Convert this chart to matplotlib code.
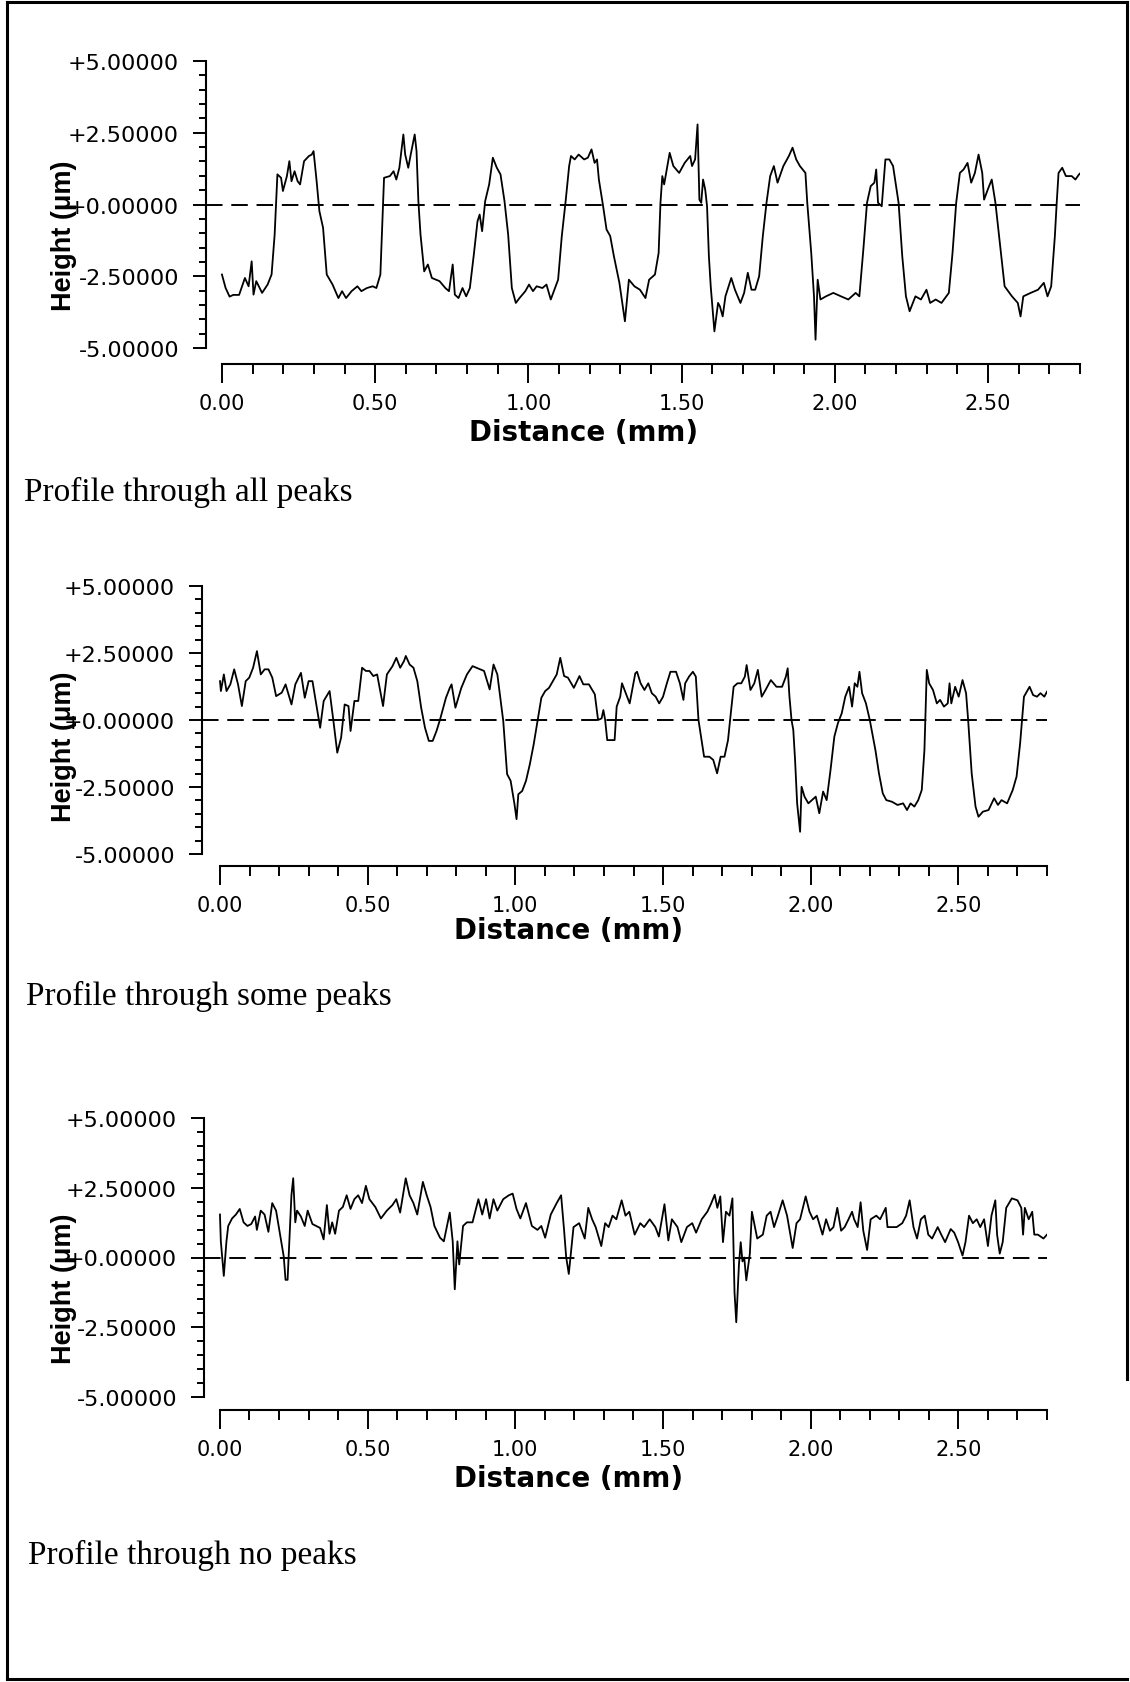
import numpy as np
import matplotlib
matplotlib.use("Agg")
import matplotlib.pyplot as plt
from matplotlib.lines import Line2D
from matplotlib.ticker import FixedLocator, FixedFormatter

W, H, DPI = 1130, 1683, 100

# --- dados (distância em mm, altura em µm) ---
dist_todos = [
    0.000, 0.012, 0.025, 0.037, 0.056, 0.075, 0.087, 0.097, 0.103, 0.112,
    0.131, 0.149, 0.162, 0.172, 0.181, 0.193, 0.199, 0.212, 0.220, 0.227,
    0.237, 0.247, 0.255, 0.268, 0.284, 0.293, 0.299, 0.309, 0.318, 0.330,
    0.342, 0.361, 0.380, 0.392, 0.405, 0.423, 0.442, 0.455, 0.473, 0.492,
    0.504, 0.517, 0.529, 0.548, 0.560, 0.569, 0.579, 0.592, 0.598, 0.608,
    0.616, 0.629, 0.635, 0.641, 0.648, 0.660, 0.672, 0.685, 0.710, 0.729,
    0.741, 0.753, 0.760, 0.772, 0.785, 0.797, 0.809, 0.822, 0.834, 0.841,
    0.849, 0.859, 0.872, 0.884, 0.897, 0.909, 0.922, 0.934, 0.946, 0.959,
    0.971, 0.990, 1.002, 1.015, 1.027, 1.046, 1.059,
    1.073, 1.097, 1.109, 1.121, 1.133, 1.139, 1.151, 1.164, 1.182, 1.194,
    1.206, 1.216, 1.224, 1.230, 1.243, 1.255, 1.267, 1.279, 1.297, 1.315,
    1.328, 1.346, 1.364, 1.382, 1.394, 1.413, 1.425, 1.431, 1.437, 1.443,
    1.461, 1.473, 1.492, 1.510, 1.528, 1.534, 1.544, 1.552, 1.558, 1.564,
    1.570, 1.577, 1.583, 1.589, 1.595, 1.607, 1.619, 1.625, 1.634, 1.643,
    1.662, 1.674, 1.692, 1.704, 1.716, 1.728, 1.740, 1.753, 1.765, 1.777,
    1.789, 1.801, 1.813, 1.832, 1.850, 1.862, 1.874, 1.886, 1.904, 1.910,
    1.923, 1.932, 1.937, 1.944, 1.953, 1.971, 1.995, 2.020, 2.044, 2.068,
    2.080, 2.093, 2.105, 2.117, 2.129, 2.135, 2.141, 2.153, 2.165, 2.178,
    2.190, 2.208, 2.220, 2.232, 2.244, 2.263, 2.281, 2.299, 2.311, 2.329,
    2.348, 2.372, 2.384, 2.396, 2.408, 2.420, 2.433, 2.445, 2.457, 2.469,
    2.481, 2.487, 2.499, 2.512, 2.524, 2.542, 2.554, 2.578, 2.597, 2.606,
    2.615, 2.639, 2.663, 2.682, 2.694, 2.706, 2.718, 2.724, 2.730, 2.742,
    2.754, 2.773, 2.785, 2.797, 2.800,
]
altura_todos = [
    -2.44, -2.91, -3.21, -3.15, -3.15, -2.56, -2.85, -1.98, -3.14, -2.67,
    -3.08, -2.79, -2.44, -1.05, 1.05, 0.93, 0.47, 0.99, 1.51, 0.81,
    1.16, 0.81, 0.70, 1.51, 1.69, 1.74, 1.86, 0.81, -0.23, -0.81,
    -2.44, -2.79, -3.26, -3.02, -3.26, -3.02, -2.85, -3.02, -2.91, -2.85,
    -2.91, -2.44, 0.93, 0.99, 1.16, 0.87, 1.28, 2.44, 1.74, 1.28,
    1.74, 2.44, 1.86, 0.12, -1.05, -2.33, -2.09, -2.56, -2.67, -2.91,
    -3.02, -2.09, -3.14, -3.26, -2.91, -3.20, -2.91, -1.74, -0.58, -0.35,
    -0.93, 0.12, 0.70, 1.63, 1.28, 1.05, 0.12, -1.05, -2.91, -3.43,
    -3.26, -3.02, -2.79, -3.02, -2.85, -2.91, -2.79,
    -3.31, -2.62, -1.10, 0.06, 1.34, 1.69, 1.57, 1.74, 1.57, 1.63,
    1.92, 1.45, 1.57, 0.87, 0.00, -0.87, -1.10, -1.80, -2.73, -4.07,
    -2.62, -2.85, -2.97, -3.26, -2.62, -2.44, -1.69, 0.06, 0.99, 0.70,
    1.80, 1.34, 1.10, 1.45, 1.69, 1.34, 1.57, 2.79, 0.17, 0.06,
    0.87, 0.52, -0.06, -1.80, -2.85, -4.42, -3.43, -3.55, -3.90, -3.20,
    -2.56, -2.97, -3.43, -3.08, -2.38, -2.97, -2.97, -2.50, -1.10, 0.06,
    0.99, 1.34, 0.76, 1.34, 1.69, 1.98, 1.57, 1.34, 1.10, 0.06,
    -1.69, -3.20, -4.71, -2.62, -3.31, -3.20, -3.08, -3.20, -3.31, -3.08,
    -3.20, -1.57, 0.06, 0.64, 0.76, 1.22, 0.06, -0.06, 1.57, 1.57,
    1.34, 0.06, -1.80, -3.20, -3.72, -3.20, -3.31, -2.97, -3.43, -3.31,
    -3.43, -3.08, -1.69, 0.06, 1.10, 1.22, 1.45, 0.76, 1.10, 1.74,
    1.10, 0.17, 0.52, 0.87, 0.06, -1.69, -2.85, -3.20, -3.43, -3.90,
    -3.20, -3.08, -2.97, -2.73, -3.20, -2.85, -1.10, 0.06, 1.10, 1.28,
    0.99, 0.99, 0.87, 1.05, 1.08,
]

dist_alguns = [
    0.000, 0.003, 0.013, 0.022, 0.035, 0.048, 0.061, 0.074, 0.087, 0.099,
    0.112, 0.125, 0.138, 0.151, 0.164, 0.177, 0.190, 0.209, 0.222, 0.242,
    0.255, 0.274, 0.287, 0.300, 0.313, 0.326, 0.339, 0.351, 0.371, 0.384,
    0.397, 0.410, 0.422, 0.435, 0.442, 0.455, 0.468, 0.481, 0.494, 0.506,
    0.519, 0.532, 0.552, 0.565, 0.584, 0.597, 0.610, 0.623, 0.629, 0.642,
    0.655, 0.668, 0.681, 0.694, 0.707, 0.720, 0.733, 0.745, 0.765, 0.778,
    0.784, 0.797, 0.817, 0.836, 0.855, 0.881, 0.894, 0.913, 0.926, 0.939,
    0.959, 0.972, 0.984, 0.997, 1.004, 1.010, 1.023, 1.036, 1.049, 1.062,
    1.075, 1.088, 1.101, 1.114, 1.127, 1.140, 1.152, 1.165, 1.178, 1.198,
    1.217, 1.230, 1.249, 1.269,
    1.280, 1.292, 1.298, 1.304, 1.311, 1.323, 1.336, 1.343, 1.355, 1.361,
    1.374, 1.387, 1.406, 1.412, 1.424, 1.437, 1.450, 1.462, 1.475, 1.487,
    1.500, 1.513, 1.525, 1.544, 1.557, 1.569, 1.575, 1.588, 1.601, 1.611,
    1.620, 1.632, 1.639, 1.657, 1.670, 1.683, 1.695, 1.708, 1.720, 1.727,
    1.739, 1.752, 1.765, 1.777, 1.783, 1.796, 1.809, 1.821, 1.834, 1.847,
    1.865, 1.884, 1.903, 1.916, 1.922, 1.928, 1.935, 1.941, 1.947, 1.954,
    1.960, 1.964, 1.969, 1.979, 1.992, 2.004, 2.017, 2.029, 2.042, 2.054,
    2.067, 2.080, 2.092, 2.105, 2.117, 2.130, 2.140, 2.149, 2.158, 2.165,
    2.174, 2.187, 2.200, 2.219, 2.231, 2.244, 2.256, 2.275, 2.294, 2.313,
    2.326, 2.338, 2.351, 2.364, 2.376, 2.385, 2.393, 2.401, 2.414, 2.427,
    2.438, 2.451, 2.464, 2.470, 2.476, 2.489, 2.501, 2.514, 2.526, 2.533,
    2.545, 2.558, 2.568, 2.583, 2.602, 2.621, 2.634, 2.646, 2.665, 2.684,
    2.697, 2.709, 2.722, 2.741, 2.753, 2.766, 2.778, 2.791, 2.800,
]
altura_alguns = [
    1.45, 1.08, 1.70, 1.08, 1.33, 1.89, 1.33, 0.52, 1.45, 1.58,
    1.95, 2.57, 1.70, 1.89, 1.89, 1.58, 0.89, 1.02, 1.33, 0.58,
    1.33, 1.76, 0.83, 1.45, 1.45, 0.58, -0.29, 0.71, 1.08, -0.04,
    -1.22, -0.66, 0.58, 0.52, -0.41, 0.71, 0.71, 1.95, 1.83, 1.83,
    1.64, 1.70, 0.52, 1.70, 2.01, 2.32, 1.95, 2.20, 2.39, 2.07,
    1.95, 1.45, 0.46, -0.29, -0.78, -0.78, -0.41, 0.02, 0.83, 1.20,
    1.33, 0.46, 1.20, 1.70, 2.01, 1.89, 1.83, 1.14, 2.07, 1.70,
    -0.04, -2.02, -2.27, -3.14, -3.70, -2.77, -2.65, -2.27, -1.65, -0.91,
    -0.04, 0.83, 1.08, 1.20, 1.45, 1.70, 2.32, 1.64, 1.58, 1.20,
    1.64, 1.33, 1.33, 0.96,
    0.00, 0.06, 0.37, 0.00, -0.75, -0.75, -0.75, 0.50, 0.87, 1.37,
    1.00, 0.62, 1.74, 1.80, 1.37, 1.12, 1.37, 1.00, 0.87, 0.62,
    0.87, 1.37, 1.80, 1.80, 1.37, 0.75, 1.37, 1.62, 1.80, 1.62,
    0.00, -0.87, -1.37, -1.37, -1.49, -1.99, -1.37, -1.37, -0.75, 0.00,
    1.24, 1.37, 1.37, 1.62, 2.05, 1.12, 1.37, 1.87, 0.87, 1.12,
    1.49, 1.24, 1.24, 1.62, 1.93, 0.87, 0.00, -0.37, -1.49, -3.11,
    -3.73, -4.17, -2.49, -2.86, -3.11, -2.99, -2.86, -3.48, -2.67, -2.99,
    -1.87, -0.62, -0.12, 0.25, 0.87, 1.24, 0.50, 1.37, 1.24, 1.80,
    1.00, 0.62, 0.00, -1.12, -1.99, -2.74, -2.99, -3.05, -3.17, -3.11,
    -3.36, -3.11, -3.23, -2.99, -2.61, -1.12, 1.87, 1.37, 1.12, 0.62,
    0.75, 0.50, 0.62, 1.37, 0.62, 1.24, 0.87, 1.49, 1.00, 0.00,
    -1.99, -3.23, -3.61, -3.42, -3.36, -2.92, -3.17, -2.99, -3.11, -2.61,
    -2.11, -0.87, 0.87, 1.24, 0.93, 0.87, 1.00, 0.87, 1.06,
]

dist_nenhum = [
    0.000, 0.003, 0.013, 0.022, 0.028, 0.041, 0.054, 0.067, 0.080, 0.093,
    0.106, 0.119, 0.125, 0.138, 0.151, 0.164, 0.177, 0.190, 0.203, 0.216,
    0.222, 0.229, 0.235, 0.242, 0.248, 0.255, 0.261, 0.274, 0.287, 0.297,
    0.313, 0.339, 0.351, 0.362, 0.371, 0.380, 0.390, 0.403, 0.416, 0.429,
    0.442, 0.455, 0.468, 0.481, 0.494, 0.506, 0.526, 0.545, 0.565, 0.584,
    0.597, 0.610, 0.629, 0.642, 0.655, 0.668, 0.687, 0.700, 0.713, 0.726,
    0.745, 0.758, 0.778, 0.788, 0.795, 0.804, 0.810, 0.823, 0.836, 0.855,
    0.875, 0.888, 0.901, 0.913, 0.926, 0.939, 0.959, 0.978, 0.991, 1.004,
    1.017, 1.036, 1.056, 1.075, 1.088, 1.101, 1.120, 1.140, 1.155, 1.165,
    1.172, 1.181,
    1.197, 1.216, 1.235, 1.247, 1.260, 1.272, 1.291, 1.304, 1.316, 1.329,
    1.342, 1.360, 1.373, 1.386, 1.404, 1.423, 1.436, 1.455, 1.474, 1.486,
    1.505, 1.518, 1.530, 1.549, 1.562, 1.581, 1.599, 1.612, 1.631, 1.650,
    1.662, 1.675, 1.684, 1.694, 1.703, 1.713, 1.725, 1.735, 1.742, 1.748,
    1.757, 1.763, 1.769, 1.775, 1.782, 1.794, 1.801, 1.819, 1.838, 1.851,
    1.864, 1.876, 1.889, 1.905, 1.920, 1.939, 1.952, 1.964, 1.983, 1.996,
    2.008, 2.021, 2.040, 2.052, 2.065, 2.077, 2.090, 2.103, 2.115, 2.128,
    2.140, 2.147, 2.159, 2.169, 2.178, 2.191, 2.203, 2.222, 2.235, 2.254,
    2.260, 2.272, 2.291, 2.310, 2.323, 2.335, 2.348, 2.360, 2.373, 2.386,
    2.398, 2.411, 2.430, 2.442, 2.455, 2.474, 2.486, 2.499, 2.514, 2.524,
    2.536, 2.549, 2.562, 2.574, 2.587, 2.600, 2.612, 2.625, 2.631, 2.640,
    2.650, 2.662, 2.681, 2.700, 2.713, 2.719, 2.725, 2.738, 2.750, 2.757,
    2.769, 2.788, 2.800,
]
altura_nenhum = [
    1.54, 0.58, -0.66, 0.58, 1.13, 1.40, 1.54, 1.74, 1.26, 1.13,
    1.20, 1.47, 0.99, 1.68, 1.54, 0.92, 1.95, 1.68, 0.85, 0.03,
    -0.80, -0.80, 0.58, 2.23, 2.84, 1.26, 1.68, 1.47, 1.13, 1.68,
    1.20, 1.06, 0.65, 1.88, 0.85, 1.26, 0.85, 1.68, 1.81, 2.23,
    1.74, 2.09, 2.23, 1.95, 2.57, 2.09, 1.81, 1.40, 1.68, 1.88,
    2.09, 1.61, 2.84, 2.23, 1.95, 1.54, 2.71, 2.23, 1.81, 1.13,
    0.71, 0.58, 1.61, 0.58, -1.14, 0.58, -0.25, 1.13, 1.26, 1.26,
    2.09, 1.54, 2.09, 1.40, 2.09, 1.68, 2.09, 2.23, 2.29, 1.74,
    1.40, 1.95, 1.13, 0.99, 1.13, 0.71, 1.54, 1.95, 2.23, 0.99,
    0.03, -0.59,
    1.09, 1.23, 0.68, 1.78, 1.37, 1.09, 0.41, 1.23, 1.09, 1.50,
    1.37, 2.05, 1.50, 1.64, 0.82, 1.23, 1.09, 1.37, 1.09, 0.75,
    1.91, 0.61, 1.37, 1.09, 0.55, 1.09, 1.23, 0.89, 1.37, 1.64,
    1.91, 2.25, 1.78, 2.19, 0.55, 1.64, 1.50, 2.12, -1.23, -2.32,
    -0.27, 0.55, -0.14, 0.00, -0.82, 0.14, 1.64, 0.68, 0.82, 1.50,
    1.64, 1.09, 1.50, 2.05, 1.50, 0.34, 1.23, 1.37, 2.19, 1.64,
    1.37, 1.50, 0.82, 1.37, 0.96, 1.09, 1.78, 0.96, 1.09, 1.37,
    1.64, 1.37, 1.09, 1.98, 0.96, 0.27, 1.37, 1.50, 1.37, 1.78,
    1.09, 1.09, 1.09, 1.23, 1.50, 2.05, 1.09, 0.68, 1.37, 1.50,
    0.82, 0.68, 1.09, 0.82, 0.55, 1.02, 0.89, 0.55, 0.07, 0.55,
    1.50, 1.23, 1.37, 1.09, 1.37, 0.41, 1.50, 2.05, 0.82, 0.14,
    0.55, 1.78, 2.12, 2.05, 1.78, 0.82, 1.78, 1.37, 1.64, 0.82,
    0.82, 0.68, 0.82,
]

XTICKS = [0.0, 0.5, 1.0, 1.5, 2.0, 2.5]
XTICK_LABELS = ["0.00", "0.50", "1.00", "1.50", "2.00", "2.50"]
YTICKS = [-5.0, -2.5, 0.0, 2.5, 5.0]
YTICK_LABELS = ["-5.00000", "-2.50000", "+0.00000", "+2.50000", "+5.00000"]
LEGENDAS = ["Profile through all peaks", "Profile through some peaks",
            "Profile through no peaks"]

# caixa do eixo em pixels: esquerda, topo, direita, base
PAINEIS = [
    dict(caixa=(206, 62, 1080, 349), xmin=-0.052, gap=16, xlab_y=433, ylab_y=236,
         leg=(24, 501)),
    dict(caixa=(202, 587, 1047, 855), xmin=-0.061, gap=12, xlab_y=931, ylab_y=747,
         leg=(26, 1005)),
    dict(caixa=(204, 1119, 1047, 1398), xmin=-0.054, gap=13, xlab_y=1479, ylab_y=1289,
         leg=(28, 1564)),
]
XMAX = 2.8


def pt(px):
    return px * 72.0 / DPI


def desenha_painel(fig, dist, altura, cfg, legenda):
    esq, topo, dir_, base = cfg["caixa"]
    larg, alt = dir_ - esq, base - topo
    ax = fig.add_axes([esq / W, 1 - base / H, larg / W, alt / H])

    ax.plot(dist, altura, color="black", lw=1.3)
    ax.axhline(0, color="black", lw=1.4, dashes=(8.5, 4.5))
    ax.set_xlim(cfg["xmin"], XMAX)
    ax.set_ylim(-5, 5)
    ax.set_facecolor("none")

    for lado in ("top", "right"):
        ax.spines[lado].set_visible(False)
    ax.spines["left"].set_linewidth(1.5)
    ax.spines["bottom"].set_linewidth(1.5)
    ax.spines["bottom"].set_position(("outward", pt(cfg["gap"])))
    ax.spines["bottom"].set_bounds(0, XMAX)

    ax.xaxis.set_major_locator(FixedLocator(XTICKS))
    ax.xaxis.set_major_formatter(FixedFormatter(XTICK_LABELS))
    ax.xaxis.set_minor_locator(FixedLocator(np.round(np.arange(0, XMAX + 0.01, 0.1), 2)))
    ax.yaxis.set_major_locator(FixedLocator(YTICKS))
    ax.yaxis.set_major_formatter(FixedFormatter(YTICK_LABELS))
    ax.yaxis.set_minor_locator(FixedLocator(np.arange(-5, 5.01, 0.5)))

    ax.tick_params(axis="x", which="major", length=pt(19), width=1.4,
                   pad=pt(10), labelsize=15, direction="out")
    ax.tick_params(axis="x", which="minor", length=pt(10), width=1.4, direction="out")
    ax.tick_params(axis="y", which="major", length=pt(13), width=1.4,
                   pad=pt(14), labelsize=16, direction="out")
    ax.tick_params(axis="y", which="minor", length=pt(7), width=1.4, direction="out")

    ax.set_xlabel("Distance (mm)", fontsize=20, fontweight="bold", va="center")
    ax.xaxis.set_label_coords((1.18 - cfg["xmin"]) / (XMAX - cfg["xmin"]),
                              -(cfg["xlab_y"] - base) / alt)
    ax.set_ylabel("Height (\u03bcm)", family=["Liberation Sans", "DejaVu Sans"],
                  fontsize=19.5, fontweight="bold", va="center")
    ax.yaxis.set_label_coords((64 - esq) / larg, (base - cfg["ylab_y"]) / alt)

    lx, ly = cfg["leg"]
    fig.text(lx / W, 1 - ly / H, legenda, family="Liberation Serif",
             fontsize=24, va="baseline", ha="left")
    return ax


def moldura(fig):
    segs = [((7, 3), (1127, 3)), ((7, 3), (7, 1680)),
            ((7, 1680), (1127, 1680)), ((1127, 3), (1127, 1380))]
    for (x0, y0), (x1, y1) in segs:
        fig.add_artist(Line2D([x0 / W, x1 / W], [1 - y0 / H, 1 - y1 / H],
                              transform=fig.transFigure, color="black", lw=2.2))


if __name__ == "__main__":
    plt.rcParams["font.family"] = ["DejaVu Sans"]
    fig = plt.figure(figsize=(W / DPI, H / DPI), dpi=DPI)
    fig.patch.set_facecolor("white")

    series = [(dist_todos, altura_todos), (dist_alguns, altura_alguns),
              (dist_nenhum, altura_nenhum)]
    for (d, h), cfg, leg in zip(series, PAINEIS, LEGENDAS):
        desenha_painel(fig, d, h, cfg, leg)
    moldura(fig)

    fig.savefig("out.png", dpi=DPI)
